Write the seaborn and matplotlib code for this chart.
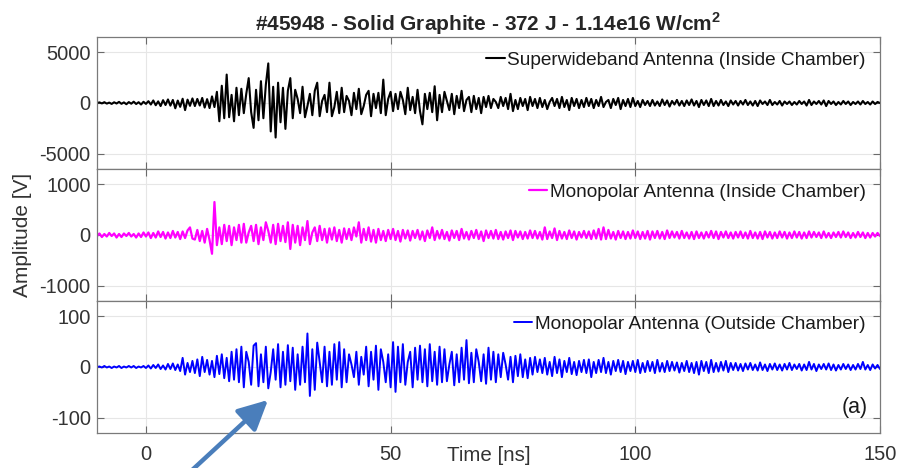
import numpy as np
import pandas as pd
import matplotlib
matplotlib.use("Agg")
import matplotlib.pyplot as plt
import seaborn as sns

# Shot and sampling
title_text = r"#45948 - Solid Graphite - 372 J - 1.14e16 W/cm$^{\mathbf{2}}$"
t_start, t_stop = -10.0, 150.0
xticks = [0, 50, 100, 150]

# Superwideband antenna, inside chamber [V], 0.5 ns sampling
superwideband_v = [
    0, 60, -40, 80, -60, 40, -90, 70, -50, 110, -80, 60, -120, 90, -70, 130, -100, 80, -150, 120,
    -90, 180, -150, 250, -220, 160, -300, 280, -200, 350, -260, 300, -520, 240, -380, 420, -700, 330, -280, 450,
    -300, 400, -250, 500, -450, 380, -500, 650, -400, 1100, -1800, 1700, -1500, 2800, -1400, 800, -1800, 1500, -1200, 1400,
    -1000, 900, 2450, -900, -2450, 1300, -1700, 2150, -1500, 1800, 3900, -2800, 1600, -3400, 2000, -1900, 1500, -2550, 1200, 2450,
    -1500, 1300, 400, -1000, 1600, -1400, -300, 900, -1200, 1200, 2000, -1300, 200, 800, -900, 2000, -1300, -400, 1100, -1000,
    1500, -900, 700, 200, -1200, 1000, -600, 1400, -1100, -300, 800, 1200, -1300, 900, -500, 1000, -1000, 2300, -1200, 400,
    1100, -800, 900, -600, 1100, 300, -1100, 1500, -700, 600, -1000, 1300, -800, -2100, 900, -600, 1000, -900, 1650, -1700,
    800, -900, 1100, 200, -700, 900, -1100, 700, -500, 1200, -800, 300, 600, -900, 700, -600, 500, -1000, 600, -400,
    700, -500, 400, 100, -500, 600, -300, 500, -600, 900, -800, 300, -600, 500, -300, 400, -700, 600, -300, 400,
    -500, 500, -400, 300, -600, 100, 500, -300, 400, -500, 600, -400, 300, -700, 500, -300, 400, -500, 300, -400,
    500, -300, 400, -500, 300, -300, 600, -400, 100, 300, -500, 400, -200, 500, -600, 300, -300, 400, -400, 500,
    -300, 200, -400, 300, -200, 200, -300, 300, -250, 150, -300, 350, -200, 250, -350, 200, -150, 300, -250, 200,
    -300, 250, -200, 350, -250, 200, -400, 300, -200, 250, -300, 400, -300, 200, -250, 300, -200, 150, -300, 250,
    -150, 200, -250, 200, -150, 300, -200, 150, -250, 200, -300, 250, -100, 150, -200, 300, -200, 100, -150, 200,
    -250, 150, -100, 150, -200, 100, -150, 200, -100, 150, -250, 300, -200, 150, -100, 200, -150, 250, -300, 200,
    -100, 150, -200, 100, -150, 200, -100, 150, -200, 100, -100, 150, -150, 200, -100, 100, -150, 150, -100, 100,
    0,
]

# Monopolar antenna, inside chamber [V]
monopolar_in_v = [
    -20, 30, -40, 20, -30, 40, -20, 30, -50, 20, -40, 30, -20, 40, -30, 20, -50, 30, -40, 50,
    -30, 50, -60, 40, -50, 70, -40, 60, -70, 50, -60, 80, -50, 60, -80, 70, -60, 90, 150, -70,
    -90, 100, -120, 80, -150, 120, -100, -370, 650, -200, 150, -180, 200, -120, 180, -200, 150, -100, 200, -150,
    220, -150, 50, 180, -120, 200, -180, 150, -100, 250, 80, -150, 200, -180, 220, -120, 180, -140, 250, -275,
    200, -150, 180, -200, 150, -100, 275, -180, 50, 150, -120, 180, -100, 120, -150, 130, -90, 150, -120, 100,
    -150, 130, -80, 120, -100, 150, -30, 250, -150, 120, -100, 150, -130, 100, -150, 120, -100, 80, -120, 100,
    -80, 120, -100, 80, -130, 100, -70, 90, -110, 80, -60, 100, -90, 70, -120, 90, -60, 150, -100, 80,
    -70, 100, -80, 60, -110, 90, -60, 80, -100, 120, -70, 60, -90, 80, -60, 100, -80, 70, -120, 90,
    -60, 80, -70, 100, -80, 60, -90, 70, -60, 90, -100, 80, -50, 70, -80, 60, -70, 90, -60, 80,
    -70, 60, -90, 150, -80, 70, -60, 130, -100, 80, -70, 60, -80, 90, -60, 70, -90, 60, -50, 80,
    -60, 70, -80, 90, -70, 120, -90, 150, -80, 100, -70, 60, -90, 80, -60, 70, -80, 60, -70, 90,
    -60, 70, -80, 60, -70, 80, -90, 70, -60, 80, -70, 60, -80, 90, -60, 70, -50, 60, -70, 80,
    -60, 50, -70, 60, -80, 70, -60, 50, -70, 60, -50, 80, -60, 70, -80, 60, -50, 70, -60, 50,
    -70, 60, -50, 70, -60, 50, -70, 80, -60, 50, -70, 60, -80, 70, -50, 60, -70, 50, -60, 70,
    -50, 60, -70, 50, -60, 70, -50, 60, -70, 50, -60, 70, -50, 60, -40, 50, -60, 70, -50, 40,
    -60, 50, -40, 60, -50, 70, -40, 50, -60, 40, -50, 60, -40, 50, -60, 40, -50, 40, -30, 40,
    -20,
]

# Monopolar antenna, outside chamber [V]
monopolar_out_v = [
    0, 1, -1, 2, -1, 1, -2, 1, -1, 2, -2, 1, -1, 2, -1, 2, -2, 1, -1, 2,
    -2, 3, -3, 4, -2, 5, -4, 3, -5, 6, -4, 7, -6, 5, -8, 18, -15, 8, -10, 12,
    -12, 15, -18, 20, -10, 14, -15, 12, -20, 22, -14, 25, -22, 18, -28, 30, -25, 35, -30, 40,
    -40, 30, 10, -35, 42, 47, -38, 25, -30, 40, -42, -10, 35, -25, 45, -40, 30, -35, 43, -28,
    38, -45, 25, -35, 40, -30, 66, -57, 35, -45, 48, 10, -30, 40, -38, 30, -35, 45, -25, 49,
    -40, 35, -30, 25, 5, -20, 30, -35, 20, -15, 40, -38, 30, -25, 42, -45, 35, 10, -30, 25,
    -40, 49, -49, 40, -30, 45, -35, 10, 30, -40, 38, -25, 42, -30, 35, -38, 45, -28, 30, -35,
    40, -30, 35, -28, 5, 30, -36, 25, -30, 38, -25, 53, -32, 28, -30, 35, 10, -28, 25, -33,
    38, -25, 30, -30, 25, -20, 28, 5, -25, 20, -30, 22, -18, 25, -20, 15, -22, 18, -15, 20,
    -10, 15, -12, 18, -15, 10, -18, 20, -12, 15, -20, 12, -10, 18, -14, 10, -16, 12, -10, 14,
    -12, 15, -20, 10, -12, 14, -10, 18, -12, 10, -15, 12, -8, 14, -10, 12, -14, 10, -8, 12,
    -10, 14, -12, 8, -10, 12, -8, 10, -12, 14, -9, 8, -10, 12, -8, 10, -7, 9, -11, 8,
    -8, 12, -10, 8, -12, 10, -15, 12, -8, 10, -12, 14, -10, 8, -9, 10, -7, 12, -10, 8,
    -6, 8, -7, 6, -8, 7, -5, 8, -6, 5, -7, 9, -6, 5, -8, 6, -5, 7, -6, 5,
    -7, 6, -5, 8, -6, 5, -4, 6, -7, 5, -6, 10, -5, 6, -8, 5, -4, 6, -5, 7,
    -6, 5, -7, 4, -5, 6, -4, 5, -6, 4, -5, 6, -4, 10, -5, 4, -6, 5, -3, 4,
    -4,
]

labels = [
    "Superwideband Antenna (Inside Chamber)",
    "Monopolar Antenna (Inside Chamber)",
    "Monopolar Antenna (Outside Chamber)",
]
colors = ["black", "#ff00ff", "#0000ff"]
line_widths = [1.5, 1.6, 1.4]
ylims = [(-6500, 6500), (-1300, 1300), (-130, 130)]
yticks = [[-5000, 0, 5000], [-1000, 0, 1000], [-100, 0, 100]]

time_ns = np.linspace(t_start, t_stop, len(superwideband_v))
frames = [
    pd.DataFrame({"Time [ns]": time_ns, "Amplitude": np.asarray(vals, dtype=float)})
    for vals in (superwideband_v, monopolar_in_v, monopolar_out_v)
]

sns.set_style("white")
plt.rcParams["font.family"] = ["Liberation Sans", "DejaVu Sans"]
plt.rcParams["axes.unicode_minus"] = False
plt.rcParams["mathtext.fontset"] = "custom"
plt.rcParams["mathtext.rm"] = "Liberation Sans"
plt.rcParams["mathtext.bf"] = "Liberation Sans:bold"

fig = plt.figure(figsize=(9.02, 4.68), dpi=100)
left, right = 97 / 902, 880 / 902
top_px, panel_px = 37, 132
axes = []
for k in range(3):
    y0 = 1 - (top_px + (k + 1) * panel_px) / 468
    ax = fig.add_axes([left, y0, right - left, panel_px / 468])
    axes.append(ax)

for k, ax in enumerate(axes):
    sns.lineplot(data=frames[k], x="Time [ns]", y="Amplitude", ax=ax,
                 color=colors[k], linewidth=line_widths[k], label=labels[k],
                 estimator=None, sort=False)
    ax.set_xlim(t_start, t_stop)
    ax.set_ylim(*ylims[k])
    ax.set_yticks(yticks[k])
    ax.set_xticks(xticks)
    ax.grid(True, color="#e6e6e6", linewidth=0.8)
    ax.set_axisbelow(True)
    ax.tick_params(direction="in", length=5, width=0.8, colors="#6a6a6a",
                   labelcolor="#333333", labelsize=14.5,
                   top=True, right=True, left=True, bottom=True)
    ax.tick_params(axis="y", pad=4.5)
    ax.tick_params(axis="x", pad=8.5)
    for sp in ax.spines.values():
        sp.set_color("#7a7a7a")
        sp.set_linewidth(0.9)
    ax.set_xlabel("")
    ax.set_ylabel("")
    if k < 2:
        ax.tick_params(labelbottom=False)
    leg = ax.legend(loc="upper right", frameon=False, fontsize=13.7,
                    handlelength=0.95, handletextpad=0.15,
                    borderaxespad=0.45, borderpad=0.3)
    for txt in leg.get_texts():
        txt.set_color("#1a1a1a")

axes[0].set_title(title_text, fontsize=15, fontweight="bold", pad=1.5)
axes[2].text(0.5, -0.168, "Time [ns]", transform=axes[2].transAxes,
             ha="center", va="center", fontsize=14.8, color="#333333")
axes[2].text(0.984, 0.19, "(a)", transform=axes[2].transAxes,
             ha="right", va="center", fontsize=15.5, color="#1a1a1a")
fig.text(23 / 902, 1 - 235 / 468, "Amplitude [V]", rotation=90,
         ha="center", va="center", fontsize=15, color="#333333")

# Pointer arrow towards the outside-chamber burst
axes[2].annotate("", xy=(268 / 902, 1 - 400 / 468), xycoords="figure fraction",
                 xytext=(190 / 902, 1 - 472 / 468), textcoords="figure fraction",
                 annotation_clip=False,
                 arrowprops=dict(arrowstyle="-|>,head_length=0.9,head_width=0.45",
                                 color="#4a7ebb", lw=3.2, mutation_scale=20,
                                 shrinkA=0, shrinkB=0))

fig.savefig("out.png", dpi=100)
